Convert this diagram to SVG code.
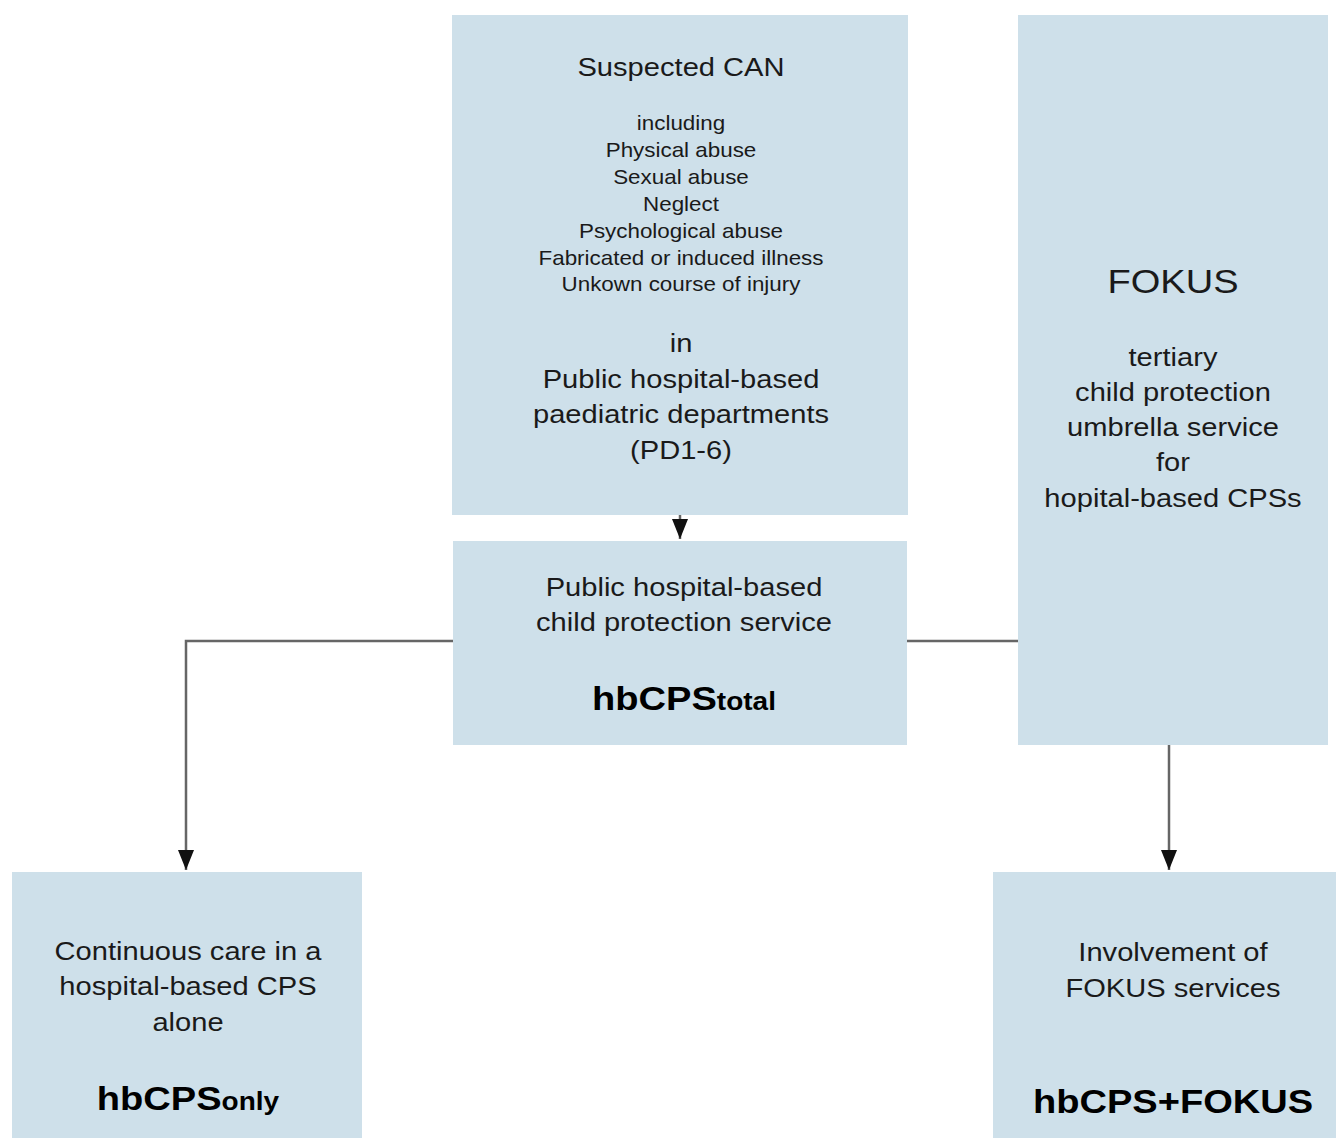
<svg xmlns="http://www.w3.org/2000/svg" width="1336" height="1138" viewBox="0 0 1336 1138">
<defs>
<style>
.box{fill:#cee0ea;}
text{font-family:"Liberation Sans",Arial,sans-serif;fill:#1a1a1a;text-anchor:middle;}
.t1{font-size:26px;}
.t2{font-size:20px;}
.t3{font-size:26px;}
.big{font-size:34px;}
.b{font-size:34px;font-weight:bold;fill:#000;}
.sub{font-size:25px;font-weight:bold;}
.conn{stroke:#666;stroke-width:2.5;fill:none;}
</style>
<marker id="arr" markerWidth="20" markerHeight="16" refX="20" refY="8" orient="auto" markerUnits="userSpaceOnUse" viewBox="0 0 20 16">
<path d="M0,0 L20,8 L0,16 z" fill="#111"/>
</marker>
</defs>
<rect width="1336" height="1138" fill="#fff"/>
<g id="connectors">
<line class="conn" x1="680" y1="515" x2="680" y2="539" marker-end="url(#arr)"/>
<polyline class="conn" points="453,641 186,641 186,870" marker-end="url(#arr)"/>
<line class="conn" x1="907" y1="641" x2="1018" y2="641"/>
<line class="conn" x1="1169" y1="745" x2="1169" y2="870" marker-end="url(#arr)"/>
</g>
<g id="suspected">
<rect class="box" x="452" y="15" width="456" height="500"/>
<g transform="translate(681,0) scale(1.12,1)">
<text class="t1" x="0" y="76">Suspected CAN</text>
<text class="t2" x="0" y="130">including</text>
<text class="t2" x="0" y="157">Physical abuse</text>
<text class="t2" x="0" y="184">Sexual abuse</text>
<text class="t2" x="0" y="211">Neglect</text>
<text class="t2" x="0" y="238">Psychological abuse</text>
<text class="t2" x="0" y="265">Fabricated or induced illness</text>
<text class="t2" x="0" y="291">Unkown course of injury</text>
<text class="t3" x="0" y="352">in</text>
<text class="t3" x="0" y="388">Public hospital-based</text>
<text class="t3" x="0" y="423">paediatric departments</text>
<text class="t3" x="0" y="459">(PD1-6)</text>
</g>
</g>
<g id="hbcps">
<rect class="box" x="453" y="541" width="454" height="204"/>
<g transform="translate(684,0) scale(1.12,1)">
<text class="t3" x="0" y="596">Public hospital-based</text>
<text class="t3" x="0" y="631">child protection service</text>
<text class="b" x="0" y="710">hbCPS<tspan class="sub">total</tspan></text>
</g>
</g>
<g id="fokus">
<rect class="box" x="1018" y="15" width="310" height="730"/>
<g transform="translate(1173,0) scale(1.12,1)">
<text class="big" x="0" y="293">FOKUS</text>
<text class="t3" x="0" y="366">tertiary</text>
<text class="t3" x="0" y="401">child protection</text>
<text class="t3" x="0" y="436">umbrella service</text>
<text class="t3" x="0" y="471">for</text>
<text class="t3" x="0" y="507">hopital-based CPSs</text>
</g>
</g>
<g id="only">
<rect class="box" x="12" y="872" width="350" height="266"/>
<g transform="translate(188,0) scale(1.12,1)">
<text class="t3" x="0" y="960">Continuous care in a</text>
<text class="t3" x="0" y="995">hospital-based CPS</text>
<text class="t3" x="0" y="1031">alone</text>
<text class="b" x="0" y="1110">hbCPS<tspan class="sub">only</tspan></text>
</g>
</g>
<g id="plusfokus">
<rect class="box" x="993" y="872" width="343" height="266"/>
<g transform="translate(1173,0) scale(1.12,1)">
<text class="t3" x="0" y="961">Involvement of</text>
<text class="t3" x="0" y="997">FOKUS services</text>
<text class="b" x="0" y="1113">hbCPS+FOKUS</text>
</g>
</g>
</svg>
